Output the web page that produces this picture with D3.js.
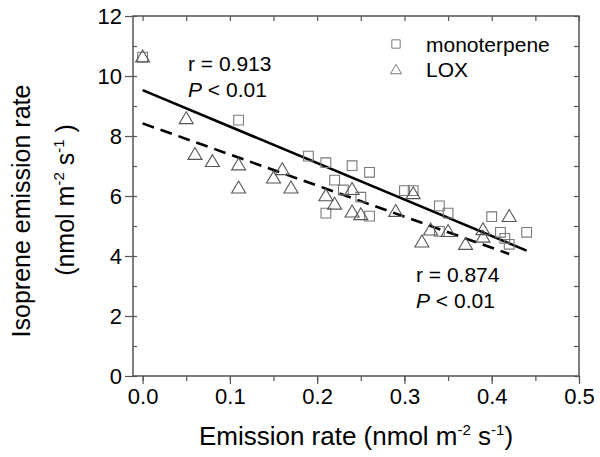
<!DOCTYPE html>
<html>
<head>
<meta charset="utf-8">
<script src="https://cdn.jsdelivr.net/npm/d3@7"></script>
<style>
  body { margin: 0; background: #fff; }
  text { font-family: Arial, "Liberation Sans", sans-serif; fill: #000; }
</style>
</head>
<body>
<div id="chart"></div>
<script>
// data: [emission rate, isoprene emission rate]
var monoterpene = [
  [0.00, 10.63], [0.11, 8.53], [0.19, 7.33], [0.21, 7.11], [0.24, 7.01],
  [0.26, 6.79], [0.22, 6.53], [0.23, 6.20], [0.25, 5.96], [0.21, 5.43],
  [0.26, 5.33], [0.30, 6.18], [0.31, 6.18], [0.34, 5.67], [0.35, 5.43],
  [0.34, 4.82], [0.40, 5.31], [0.41, 4.79], [0.415, 4.59], [0.42, 4.39],
  [0.44, 4.79]
];
var lox = [
  [0.00, 10.63], [0.05, 8.57], [0.06, 7.38], [0.08, 7.14], [0.11, 7.03],
  [0.11, 6.26], [0.15, 6.59], [0.16, 6.87], [0.17, 6.26], [0.21, 6.00],
  [0.22, 5.72], [0.24, 6.21], [0.24, 5.46], [0.25, 5.37], [0.29, 5.48],
  [0.31, 6.07], [0.33, 4.86], [0.35, 4.81], [0.32, 4.46], [0.37, 4.38],
  [0.39, 4.87], [0.39, 4.62], [0.42, 5.31]
];
// fitted lines: [x start, x end], intercept, slope
var monoFit = {xs: [0, 0.44], a: 9.53, b: -12.16};
var loxFit = {xs: [0, 0.42], a: 8.42, b: -10.36};

var xTicks = [0, 0.1, 0.2, 0.3, 0.4, 0.5];
var yTicks = [0, 2, 4, 6, 8, 10, 12];

var svg = d3.select('#chart')
    .append('svg')
        .attr('width', 600)
        .attr('height', 457);

var x_scale = d3.scaleLinear().domain([-0.011, 0.5]).range([133, 579]);
var y_scale = d3.scaleLinear().domain([0, 12]).range([376, 16]);

var axisColor = '#555';
var markColor = '#7a7a7a';

// frame
svg.append('rect')
    .attr('x', x_scale.range()[0])
    .attr('y', y_scale.range()[1])
    .attr('width', x_scale.range()[1] - x_scale.range()[0])
    .attr('height', y_scale.range()[0] - y_scale.range()[1])
    .attr('fill', 'none')
    .attr('stroke', axisColor)
    .attr('stroke-width', 1.5);

var xMinor = d3.range(0, 0.501, 0.05);
var yMinor = d3.range(0, 12.01, 1);

// bottom axis
var xb = svg.append('g').attr('transform', 'translate(0,376)');
xb.call(d3.axisBottom(x_scale).tickValues(xMinor).tickSize(5).tickFormat(''));
xb.append('g').call(d3.axisBottom(x_scale).tickValues(xTicks).tickSize(8).tickPadding(4).tickFormat(d3.format('.1f')));
// left axis
var yl = svg.append('g').attr('transform', 'translate(133,0)');
yl.call(d3.axisRight(y_scale).tickValues(yMinor).tickSize(4).tickFormat(''));
yl.append('g').call(d3.axisLeft(y_scale).tickValues(yTicks).tickSize(8).tickPadding(3));
// top and right axes, inward ticks
svg.append('g').attr('transform', 'translate(0,16)')
    .call(d3.axisBottom(x_scale).tickValues(xMinor).tickSize(5).tickFormat(''));
svg.append('g').attr('transform', 'translate(579,0)')
    .call(d3.axisLeft(y_scale).tickValues(yMinor).tickSize(5).tickFormat(''));

svg.selectAll('.domain').remove();
svg.selectAll('.tick line').attr('stroke', axisColor).attr('stroke-width', 1.2);
svg.selectAll('.tick text').style('font-size', '22px').attr('fill', '#000');

// regression lines
var fitLine = function(f) {
    return f.xs.map(function(v) { return [x_scale(v), y_scale(f.a + f.b * v)]; });
};
svg.append('path')
    .attr('d', d3.line()(fitLine(monoFit)))
    .attr('stroke', '#000')
    .attr('stroke-width', 2.6)
    .attr('fill', 'none');
svg.append('path')
    .attr('d', d3.line()(fitLine(loxFit)))
    .attr('stroke', '#000')
    .attr('stroke-width', 2.6)
    .attr('stroke-dasharray', '12,7')
    .attr('fill', 'none');

// markers
var sq = d3.symbol().type(d3.symbolSquare).size(95);
var tri = function(s) {
    var h = s * 0.85;
    return 'M0,' + (-h * 0.6) + 'L' + (s / 2) + ',' + (h * 0.4) + 'L' + (-s / 2) + ',' + (h * 0.4) + 'Z';
};

svg.append('g').selectAll('path')
    .data(monoterpene)
    .enter().append('path')
        .attr('d', sq)
        .attr('transform', function(d) { return 'translate(' + x_scale(d[0]) + ',' + y_scale(d[1]) + ')'; })
        .attr('fill', 'none')
        .attr('stroke', markColor)
        .attr('stroke-width', 1.1);

svg.append('g').selectAll('path')
    .data(lox)
    .enter().append('path')
        .attr('d', tri(14))
        .attr('transform', function(d) { return 'translate(' + x_scale(d[0]) + ',' + y_scale(d[1]) + ')'; })
        .attr('fill', 'none')
        .attr('stroke', '#555')
        .attr('stroke-width', 1.1);

// legend
svg.append('path').attr('d', d3.symbol().type(d3.symbolSquare).size(70)())
    .attr('transform', 'translate(396,44)')
    .attr('fill', 'none').attr('stroke', markColor).attr('stroke-width', 1);
svg.append('path').attr('d', tri(11))
    .attr('transform', 'translate(396,70)')
    .attr('fill', 'none').attr('stroke', markColor).attr('stroke-width', 1);
svg.append('text').attr('x', 426).attr('y', 52).style('font-size', '21px').text('monoterpene');
svg.append('text').attr('x', 426).attr('y', 77).style('font-size', '21px').text('LOX');

// annotations
function stat(x, y, r) {
    svg.append('text').attr('x', x).attr('y', y).style('font-size', '21px').text('r = ' + r);
    var p = svg.append('text').attr('x', x).attr('y', y + 26).style('font-size', '21px');
    p.append('tspan').style('font-style', 'italic').text('P');
    p.append('tspan').text(' < 0.01');
}
stat(188, 71, '0.913');
stat(416, 282, '0.874');

// axis titles
var xt = svg.append('text')
    .attr('x', 356).attr('y', 445)
    .attr('text-anchor', 'middle')
    .style('font-size', '26px');
xt.append('tspan').text('Emission rate (nmol m');
xt.append('tspan').attr('dy', -10).style('font-size', '15px').text('-2');
xt.append('tspan').attr('dy', 10).text(' s');
xt.append('tspan').attr('dy', -10).style('font-size', '15px').text('-1');
xt.append('tspan').attr('dy', 10).text(')');

var yt = svg.append('g').attr('transform', 'translate(0,211)rotate(-90)');
yt.append('text').attr('x', 0).attr('y', 30)
    .attr('text-anchor', 'middle').style('font-size', '25px')
    .text('Isoprene emission rate');
var yt2 = yt.append('text').attr('x', 11).attr('y', 74)
    .attr('text-anchor', 'middle').style('font-size', '25px');
yt2.append('tspan').text('(nmol m');
yt2.append('tspan').attr('dy', -10).style('font-size', '15px').text('-2');
yt2.append('tspan').attr('dy', 10).text(' s');
yt2.append('tspan').attr('dy', -10).style('font-size', '15px').text('-1');
yt2.append('tspan').attr('dy', 10).text(' )');
</script>
</body>
</html>
